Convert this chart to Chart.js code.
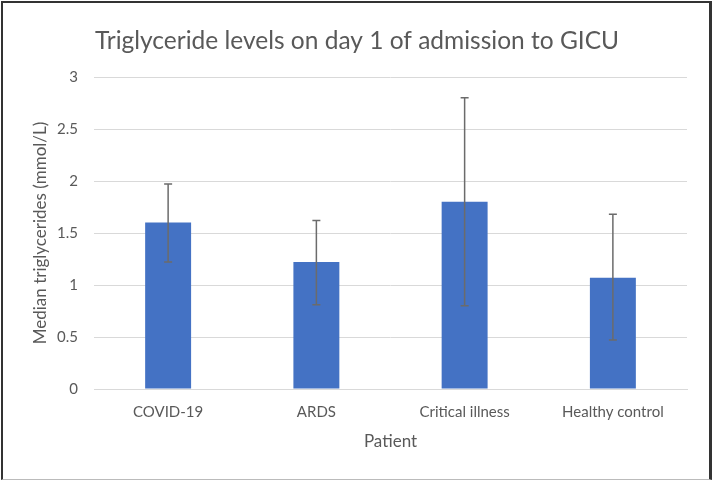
<!DOCTYPE html>
<html>
<head>
<meta charset="utf-8">
<script src="https://cdn.jsdelivr.net/npm/chart.js@4"></script>
<style>
    html, body { margin: 0; padding: 0; background: #fff; }
    #wrap { position: relative; width: 714px; height: 481px; }
    #frame {
        position: absolute; left: 1px; top: 1px; width: 706px; height: 476px;
        border-top: 2px solid #333; border-left: 2px solid #333; border-right: 3px solid #333;
        border-bottom: 1px solid #bbb; pointer-events: none;
    }
</style>
</head>
<body>
<div id="wrap">
    <canvas id="grafico" width="714" height="481"></canvas>
    <div id="frame"></div>
</div>
<script>
const categorias = ['COVID-19', 'ARDS', 'Critical illness', 'Healthy control'];
const medianas = [1.6, 1.22, 1.8, 1.07];
const errorAlto = [1.97, 1.62, 2.8, 1.68];
const errorBajo = [1.22, 0.81, 0.8, 0.47];
const ticksY = [0, 0.5, 1, 1.5, 2, 2.5, 3];

const FUENTE = 'Lato, "Open Sans", sans-serif';
const GRIS = '#595959';

// barras de error dibujadas con la escala y del grafico
const barrasError = {
    id: 'barrasError',
    afterDatasetsDraw(chart) {
        const ctx = chart.ctx;
        const y = chart.scales.y;
        const meta = chart.getDatasetMeta(0);
        ctx.save();
        ctx.strokeStyle = '#6b6b6b';
        ctx.lineWidth = 1.5;
        meta.data.forEach(function (bar, i) {
            const yAlto = y.getPixelForValue(errorAlto[i]);
            const yBajo = y.getPixelForValue(errorBajo[i]);
            ctx.beginPath();
            ctx.moveTo(bar.x, yAlto);
            ctx.lineTo(bar.x, yBajo);
            ctx.moveTo(bar.x - 4, yAlto);
            ctx.lineTo(bar.x + 4, yAlto);
            ctx.moveTo(bar.x - 4, yBajo);
            ctx.lineTo(bar.x + 4, yBajo);
            ctx.stroke();
        });
        ctx.restore();
    }
};

new Chart(document.getElementById('grafico').getContext('2d'), {
    type: 'bar',
    data: {
        labels: categorias,
        datasets: [{
            label: 'Median triglycerides',
            data: medianas,
            backgroundColor: '#4472c4',
            borderWidth: 0,
            categoryPercentage: 1,
            barPercentage: 0.31
        }]
    },
    options: {
        responsive: false,
        animation: false,
        layout: { padding: 0 },
        plugins: {
            legend: { display: false },
            tooltip: { enabled: false },
            title: {
                display: true,
                text: 'Triglyceride levels on day 1 of admission to GICU',
                color: GRIS,
                font: { family: FUENTE, size: 24.5, weight: 'normal', lineHeight: 1.2 },
                padding: { top: 26, bottom: 21.6 }
            }
        },
        scales: {
            x: {
                grid: { display: false, drawTicks: false },
                border: { display: true, color: '#d9d9d9', width: 1 },
                ticks: { color: GRIS, font: { family: FUENTE, size: 15 }, padding: 14, maxRotation: 0 },
                title: {
                    display: true, text: 'Patient', color: GRIS,
                    font: { family: FUENTE, size: 17, lineHeight: 1.2 },
                    padding: { top: 0, bottom: 29 }
                },
                afterFit: function (scale) { scale.height = 92; }
            },
            y: {
                min: 0,
                max: 3,
                afterBuildTicks: function (scale) {
                    scale.ticks = ticksY.map(function (v) { return { value: v }; });
                },
                grid: { color: '#d9d9d9', lineWidth: 1, drawTicks: false },
                border: { display: false },
                ticks: {
                    color: GRIS, font: { family: FUENTE, size: 15 }, padding: 16,
                    callback: function (value) { return String(value); }
                },
                title: {
                    display: true, text: 'Median triglycerides (mmol/L)', color: GRIS,
                    font: { family: FUENTE, size: 17, lineHeight: 1.2 },
                    padding: { top: 30, bottom: 0 }
                },
                afterFit: function (scale) { scale.width = 94; }
            },
            // eje vacio a la derecha para dejar el margen sin descentrar el titulo
            margen: {
                type: 'linear',
                position: 'right',
                display: true,
                grid: { display: false, drawTicks: false },
                border: { display: false },
                ticks: { display: false },
                afterFit: function (scale) { scale.width = 27; }
            }
        }
    },
    plugins: [barrasError]
});
</script>
</body>
</html>
